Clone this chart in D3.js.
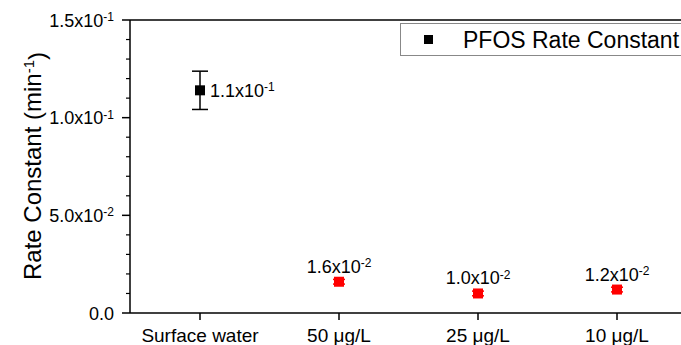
<!DOCTYPE html>
<html>
<head>
<meta charset="utf-8">
<script src="https://cdn.jsdelivr.net/npm/d3@7"></script>
<style>
  html, body { margin: 0; padding: 0; background: #fff; }
  svg { display: block; font-family: "Liberation Sans", Arial, sans-serif; }
</style>
</head>
<body>
<svg id="chart" width="681" height="345"></svg>
<script>
// Samples and fitted PFOS rate constants (min^-1)
const categories = ["Surface water", "50 \u03bcg/L", "25 \u03bcg/L", "10 \u03bcg/L"];
const rateValues = [0.114, 0.016, 0.010, 0.012];
const rateErrors = [0.0098, 0.0012, 0.0012, 0.0012];
const rateLabels = [["1.1", "-1"], ["1.6", "-2"], ["1.0", "-2"], ["1.2", "-2"]];
const pointColors = ["#000000", "#ff0000", "#ff0000", "#ff0000"];
const yTickValues = [0, 0.05, 0.10, 0.15];
const yTickLabels = [["0.0", null], ["5.0", "-2"], ["1.0", "-1"], ["1.5", "-1"]];
const legendLabel = "PFOS Rate Constant";

const svg = d3.select("#chart");
const margin = { left: 130, top: 20, bottom: 313 };

const x = d3.scalePoint().domain(categories).range([200, 617]);
const y = d3.scaleLinear().domain([0, 0.15]).range([margin.bottom, margin.top]);

// helper: mantissa x 10^exp text
function sciText(sel, parts, supSize) {
  sel.append("tspan").text(parts[0] + (parts[1] ? "x10" : ""));
  if (parts[1]) {
    sel.append("tspan").attr("dy", "-0.45em").style("font-size", supSize + "px").text(parts[1]);
  }
}

// frame: top border
svg.append("line")
  .attr("x1", margin.left).attr("x2", 681)
  .attr("y1", margin.top).attr("y2", margin.top)
  .attr("stroke", "#000").attr("stroke-width", 1.5);

// y axis with minor ticks
const yAxisG = svg.append("g").attr("transform", `translate(${margin.left},0)`);
yAxisG.append("line")
  .attr("x1", 0).attr("x2", 0).attr("y1", margin.top).attr("y2", margin.bottom)
  .attr("stroke", "#000").attr("stroke-width", 1.5);
const minorTicks = d3.range(0, 0.1501, 0.01).filter(v => !yTickValues.some(t => Math.abs(t - v) < 1e-9));
yAxisG.selectAll("line.minor").data(minorTicks).join("line")
  .attr("class", "minor")
  .attr("x1", -4).attr("x2", 0)
  .attr("y1", d => y(d)).attr("y2", d => y(d))
  .attr("stroke", "#000").attr("stroke-width", 1.2);
yAxisG.selectAll("line.major").data(yTickValues).join("line")
  .attr("class", "major")
  .attr("x1", -8).attr("x2", 0)
  .attr("y1", d => y(d)).attr("y2", d => y(d))
  .attr("stroke", "#000").attr("stroke-width", 1.5);
yAxisG.selectAll("text.tick").data(yTickValues).join("text")
  .attr("class", "tick")
  .attr("x", -16).attr("y", d => y(d) + 6.5)
  .attr("text-anchor", "end")
  .style("font-size", "18px")
  .each(function (d, i) { sciText(d3.select(this), yTickLabels[i], 12); });

// y axis title
const yTitle = svg.append("text")
  .attr("transform", "translate(41,166) rotate(-90)")
  .attr("text-anchor", "middle")
  .style("font-size", "24px");
yTitle.append("tspan").text("Rate Constant (min");
yTitle.append("tspan").attr("dy", "-0.45em").style("font-size", "15px").text("-1");
yTitle.append("tspan").attr("dy", "0.45em").text(")");

// x axis
const xAxisG = svg.append("g").attr("transform", `translate(0,${margin.bottom})`);
xAxisG.append("line")
  .attr("x1", margin.left).attr("x2", 681).attr("y1", 0).attr("y2", 0)
  .attr("stroke", "#000").attr("stroke-width", 1.5);
xAxisG.selectAll("line.tick").data(categories).join("line")
  .attr("class", "tick")
  .attr("x1", d => x(d)).attr("x2", d => x(d))
  .attr("y1", 0).attr("y2", 7)
  .attr("stroke", "#000").attr("stroke-width", 1.5);
xAxisG.selectAll("text").data(categories).join("text")
  .attr("x", d => x(d)).attr("y", 29)
  .attr("text-anchor", "middle")
  .style("font-size", "19px")
  .text(d => d);

// error bars and points
const pts = svg.append("g").selectAll("g").data(categories).join("g");
pts.append("line")
  .attr("x1", d => x(d)).attr("x2", d => x(d))
  .attr("y1", (d, i) => y(rateValues[i] + rateErrors[i]))
  .attr("y2", (d, i) => y(rateValues[i] - rateErrors[i]))
  .attr("stroke", (d, i) => pointColors[i]).attr("stroke-width", 1.5);
pts.each(function (d, i) {
  const g = d3.select(this);
  const capW = i === 0 ? 8 : 6;
  [rateValues[i] + rateErrors[i], rateValues[i] - rateErrors[i]].forEach(v => {
    g.append("line")
      .attr("x1", x(d) - capW).attr("x2", x(d) + capW)
      .attr("y1", y(v)).attr("y2", y(v))
      .attr("stroke", pointColors[i]).attr("stroke-width", 1.5);
  });
});
pts.append("rect")
  .attr("x", d => x(d) - 5).attr("y", (d, i) => y(rateValues[i]) - 5)
  .attr("width", 10).attr("height", 10)
  .attr("fill", (d, i) => pointColors[i]);

// value labels
svg.append("g").selectAll("text").data(categories).join("text")
  .attr("x", (d, i) => i === 0 ? x(d) + 10 : x(d))
  .attr("y", (d, i) => i === 0 ? y(rateValues[i]) + 6.5 : y(rateValues[i]) - 9)
  .attr("text-anchor", (d, i) => i === 0 ? "start" : "middle")
  .style("font-size", "18px")
  .each(function (d, i) { sciText(d3.select(this), rateLabels[i], 12); });

// legend
const lg = svg.append("g");
lg.append("rect")
  .attr("x", 400.5).attr("y", 23.5).attr("width", 300).attr("height", 32)
  .attr("fill", "#fff").attr("stroke", "#888").attr("stroke-width", 1);
lg.append("rect")
  .attr("x", 424).attr("y", 35).attr("width", 9).attr("height", 9)
  .attr("fill", "#000");
lg.append("text")
  .attr("x", 463).attr("y", 48)
  .style("font-size", "23px")
  .text(legendLabel);
</script>
</body>
</html>
